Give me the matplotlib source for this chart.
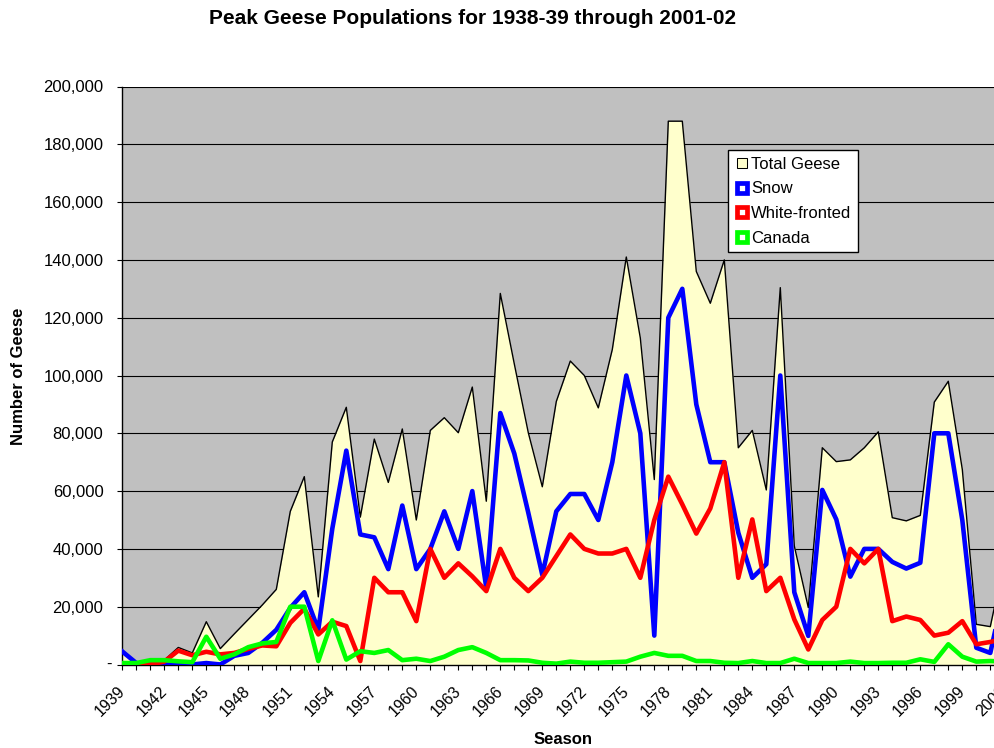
import matplotlib.pyplot as plt
import numpy as np
from matplotlib.lines import Line2D
from matplotlib.ticker import FuncFormatter

plt.rcParams['font.family'] = ['Liberation Sans', 'DejaVu Sans']

###DATA (thousands of geese)
seasons = list(range(1939, 2003))

total_geese = [5, 0.5, 1.5, 1.5, 5.9, 4, 14.8, 5.5, 10.6, 15.6,
               20.6, 26, 53, 65, 23.4, 77, 89, 51, 78, 63,
               81.5, 50, 81, 85.4, 80.2, 96, 56.5, 128.4, 104, 80.2,
               61.5, 91, 105, 100, 88.8, 109, 141, 113, 64, 188,
               188, 136, 125, 140, 75, 81, 60.4, 130.4, 41, 19.7,
               75, 70.2, 70.8, 75, 80.5, 50.8, 49.7, 51.6, 90.8, 98,
               67.5, 13.9, 13.1, 36]

snow = [4.5, 0.5, 0, 0, 0, 0, 0.5, 0, 3, 4,
        7.5, 12, 19.6, 25, 12, 47, 74, 45, 44, 33,
        55, 33, 40, 53, 40, 60, 26.5, 87, 73, 52.5,
        31, 53, 59, 59, 50, 70, 100, 80, 10, 120,
        130, 90, 70, 70, 45.6, 30, 34.7, 100, 25, 9.9,
        60.4, 50.2, 30.4, 40, 40, 35.5, 33.2, 35.2, 80, 80,
        50, 5.8, 4, 26]

white_fronted = [0, 0, 0, 1, 4.8, 3.2, 4.4, 3.5, 4, 5.4,
                 6.6, 6.3, 14.4, 19.3, 10.4, 14.8, 13.3, 1.2, 30, 25,
                 25, 15, 40, 30, 35, 30.5, 25.4, 40, 30, 25.4,
                 30, 37.5, 45, 40, 38.4, 38.4, 40, 30, 50, 65,
                 55.4, 45.3, 54, 70, 30, 50.2, 25.4, 30, 15.6, 5.2,
                 15.4, 20, 40, 35, 40, 15, 16.6, 15.4, 10, 11,
                 15, 7, 7.8, 9]

canada = [0.5, 0.5, 1.5, 1.5, 1.1, 0.8, 9.6, 2, 3.5, 6,
          7.3, 7.8, 20, 20, 1.2, 15.3, 1.7, 4.6, 4, 5,
          1.5, 2, 1.2, 2.7, 5, 6, 4, 1.5, 1.5, 1.4,
          0.6, 0.3, 1, 0.6, 0.6, 0.8, 1, 2.7, 4, 3,
          3, 1.2, 1.2, 0.6, 0.5, 1.2, 0.5, 0.5, 2, 0.5,
          0.5, 0.5, 1, 0.5, 0.5, 0.6, 0.6, 1.8, 0.9, 7,
          2.7, 1, 1.2, 1]

series_names = ['Total Geese', 'Snow', 'White-fronted', 'Canada']
tick_labels = [str(s) if (s - seasons[0]) % 3 == 0 else '' for s in seasons]

total_geese = np.array(total_geese) * 1000
snow = np.array(snow) * 1000
white_fronted = np.array(white_fronted) * 1000
canada = np.array(canada) * 1000

###PLOT
W, H = 994, 748
fig = plt.figure(figsize=(W / 100, H / 100), dpi=100)
# plot area runs a little past the right edge, as in the original crop
ax = fig.add_axes([122.3 / W, 83.5 / H, 882 / W, 578 / H])
ax.set_facecolor('#C0C0C0')

ax.fill_between(seasons, total_geese, 0, color='#FFFFCC', lw=0, zorder=2)
ax.plot(seasons, total_geese, color='black', lw=1.0, zorder=3)
ax.plot(seasons, snow, color='#0000FF', lw=3.3, zorder=4)
ax.plot(seasons, white_fronted, color='#FF0000', lw=3.3, zorder=5)
ax.plot(seasons, canada, color='#00FF00', lw=3.3, zorder=6)

ax.set_xlim(seasons[0], seasons[-1])
ax.set_ylim(0, 200000)
ax.set_yticks(range(0, 200001, 20000))
ax.yaxis.set_major_formatter(FuncFormatter(lambda v, p: '' if v == 0 else f'{int(v):,}'))
ax.grid(axis='y', color='black', lw=0.8)
ax.set_axisbelow(True)

ax.set_xticks(seasons)
ax.set_xticklabels(tick_labels, rotation=45, ha='right', va='center',
                   rotation_mode='anchor', fontsize=11.5)
ax.tick_params(axis='x', direction='out', length=3.6, width=0.8, pad=14)
ax.tick_params(axis='y', direction='out', length=3.6, width=0.8, pad=10, labelsize=12)

for side in ['top', 'right']:
    ax.spines[side].set_visible(False)
for side in ['left', 'bottom']:
    ax.spines[side].set_color('black')
    ax.spines[side].set_linewidth(1.0)

# zero shown as a dash (accounting format)
fig.text(109 / W, 1 - 664.5 / H, '-', ha='center', va='center', fontsize=12)

fig.text(473 / W, 1 - 18 / H, 'Peak Geese Populations for 1938-39 through 2001-02',
         ha='center', va='center', fontsize=15, fontweight='bold')
fig.text(19 / W, 1 - 376 / H, 'Number of Geese', rotation=90,
         ha='center', va='center', fontsize=12, fontweight='bold')
fig.text(563.3 / W, 1 - 740 / H, 'Season', ha='center', va='center',
         fontsize=12, fontweight='bold')

###LEGEND
handles = [
    Line2D([], [], ls='none', marker='s', markersize=7.9, markerfacecolor='#FFFFCC',
           markeredgecolor='black', markeredgewidth=0.75),
    Line2D([], [], ls='none', marker='s', markersize=6.7, markerfacecolor='white',
           markeredgecolor='#0000FF', markeredgewidth=3.4),
    Line2D([], [], ls='none', marker='s', markersize=6.7, markerfacecolor='white',
           markeredgecolor='#FF0000', markeredgewidth=3.4),
    Line2D([], [], ls='none', marker='s', markersize=6.7, markerfacecolor='white',
           markeredgecolor='#00FF00', markeredgewidth=3.4),
]
leg = fig.legend(handles, series_names, loc='upper left',
                 bbox_to_anchor=(728.3 / W, 1 - 150 / H), frameon=True,
                 fancybox=False, edgecolor='black', framealpha=1, fontsize=12,
                 handlelength=0.8, handletextpad=0.15, labelspacing=0.58,
                 borderpad=0.4, borderaxespad=0)
leg.get_frame().set_linewidth(1.0)

plt.savefig('out.png', dpi=100)
